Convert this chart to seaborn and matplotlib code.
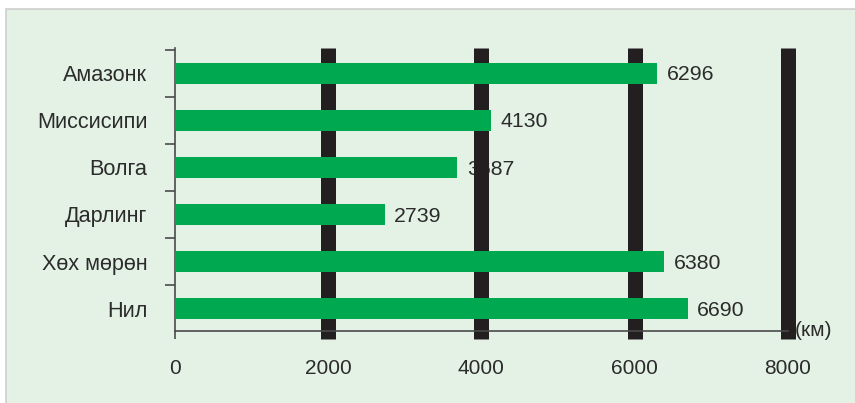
import matplotlib
matplotlib.use("Agg")
import matplotlib.pyplot as plt
import seaborn as sns
import pandas as pd
from matplotlib.patches import Rectangle
from matplotlib.ticker import FixedLocator

rivers = ["Амазонк", "Миссисипи", "Волга", "Дарлинг", "Хөх мөрөн", "Нил"]
lengths = [6296, 4130, 3687, 2739, 6380, 6690]
x_ticks = [0, 2000, 4000, 6000, 8000]
grid_marks = [2000, 4000, 6000, 8000]
unit_label = "(км)"

BG = "#e4f2e6"
GREEN = "#00a94f"
BLACK = "#231f20"
TEXT = "#2b2b2b"

sns.set_style("white")
plt.rcParams["font.family"] = ["Liberation Sans", "DejaVu Sans"]
plt.rcParams["font.size"] = 15

W, H = 855, 403
fig = plt.figure(figsize=(W / 100, H / 100), dpi=100, facecolor="white")
fig.patches.append(Rectangle((6 / W, -0.01), 1.0, 1.01 - 9 / H, transform=fig.transFigure,
                             facecolor=BG, edgecolor="#cfcfcf", linewidth=1.2, zorder=-5))

x0, x1 = 174.5, 788.0
ytop, ybot = 48.3, 330.7
ax = fig.add_axes([x0 / W, (H - ybot) / H, (x1 - x0) / W, (ybot - ytop) / H])
ax.set_facecolor("none")
ax.set_zorder(1)

df = pd.DataFrame({"river": rivers, "length": lengths})
sns.barplot(data=df, y="river", x="length", orient="h", color=GREEN, width=0.45,
            saturation=1, ax=ax, zorder=3)
for p in ax.patches:
    p.set_edgecolor("none")
    p.set_zorder(3)

ax.set_xlim(0, 8000)
ax.set_ylim(5.47, -0.53)

# thick black vertical bars
ax.vlines(grid_marks, -0.03, 1.0, transform=ax.get_xaxis_transform(), colors=BLACK,
          linewidth=10.8, zorder=2, clip_on=False, capstyle="butt")

# value labels (beneath the black bars)
for i, v in enumerate(lengths):
    ax.annotate(str(v), xy=(v, i), xytext=(7, -1.2), textcoords="offset points",
                va="center", ha="left", color=TEXT, fontsize=15.3, zorder=1.5)

ax.text(1.0 + 7 / (x1 - x0), 0.0, unit_label, transform=ax.transAxes, ha="left",
        va="center", color=TEXT, fontsize=15, zorder=4)

for s in ["top", "right"]:
    ax.spines[s].set_visible(False)
for s in ["left", "bottom"]:
    ax.spines[s].set_color("#4a4a4a")
    ax.spines[s].set_linewidth(1.2)

ax.set_xticks(x_ticks)
ax.set_xticklabels([str(t) for t in x_ticks], color=TEXT, fontsize=15)
ax.tick_params(axis="x", which="major", direction="out", length=6, width=1.2,
               color="#4a4a4a", pad=14.5, bottom=True)
ax.set_yticks(range(len(rivers)))
ax.set_yticklabels(rivers, color=TEXT, fontsize=15.6)
ax.tick_params(axis="y", which="major", length=0, pad=19.5)
ax.yaxis.set_minor_locator(FixedLocator([k - 0.5 for k in range(len(rivers) + 1)]))
ax.tick_params(axis="y", which="minor", direction="out", length=7, width=1.2,
               color="#4a4a4a", left=True)
ax.set_xlabel("")
ax.set_ylabel("")

fig.savefig("out.png", dpi=100, facecolor="white")
